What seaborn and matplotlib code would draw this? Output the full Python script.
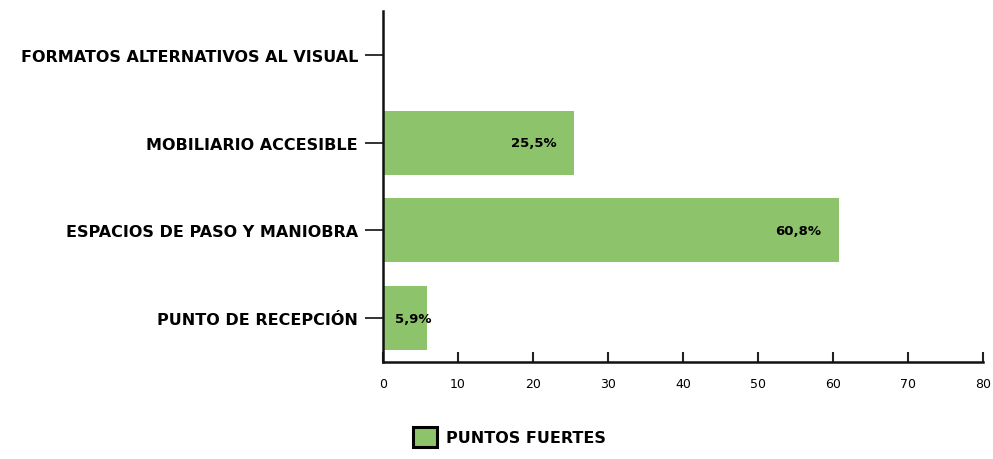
import matplotlib
matplotlib.use('Agg')
import matplotlib.pyplot as plt
import seaborn as sns
import pandas as pd
from matplotlib.patches import Patch

# Data
categorias = ["FORMATOS ALTERNATIVOS AL VISUAL", "MOBILIARIO ACCESIBLE",
              "ESPACIOS DE PASO Y MANIOBRA", "PUNTO DE RECEPCIÓN"]
puntos_fuertes = [0.0, 25.5, 60.8, 5.9]
etiquetas = ["", "25,5%", "60,8%", "5,9%"]
x_ticks = [0, 10, 20, 30, 40, 50, 60, 70, 80]

df = pd.DataFrame({"categoria": categorias, "valor": puntos_fuertes})

sns.set_style("white")
plt.rcParams['font.family'] = ['DejaVu Sans']
plt.rcParams['text.color'] = 'black'

verde = "#8dc36b"

fig = plt.figure(figsize=(9.93, 4.6), dpi=100)
ax = fig.add_axes([0.3857, 0.211, 0.6042, 0.763])

sns.barplot(data=df, y="categoria", x="valor", color=verde, width=0.73,
            saturation=1, ax=ax, edgecolor="none")

ax.set_xlim(0, 80)
ax.set_ylim(3.5, -0.5)
ax.set_xticks(x_ticks)
ax.set_xticklabels([str(t) for t in x_ticks], fontsize=9)
ax.set_yticks(range(len(categorias)))
ax.set_yticklabels(categorias, fontsize=11.5, fontweight='bold')
ax.set_xlabel("")
ax.set_ylabel("")

for s in ["top", "right"]:
    ax.spines[s].set_visible(False)
for s in ["left", "bottom"]:
    ax.spines[s].set_color("#111111")
    ax.spines[s].set_linewidth(1.8)

ax.tick_params(axis='x', bottom=True, direction='in', length=7, width=1.5,
               color="#222222", labelcolor="black", pad=11)
ax.tick_params(axis='y', left=True, direction='out', length=13, width=1.3,
               color="#222222", labelcolor="black", pad=5)

# value labels
for i, (v, lab) in enumerate(zip(puntos_fuertes, etiquetas)):
    if not lab:
        continue
    if v > 15:
        ax.text(v - 2.4, i, lab, ha='right', va='center', fontsize=9.5, fontweight='bold')
    else:
        ax.text(1.6, i, lab, ha='left', va='center', fontsize=9.5, fontweight='bold')

handles = [Patch(facecolor=verde, edgecolor="black", linewidth=2.2, label="PUNTOS FUERTES")]
fig.legend(handles=handles, loc='center', bbox_to_anchor=(0.513, 0.048), frameon=False,
           prop={'weight': 'bold', 'size': 11.5}, handlelength=1.5, handleheight=1.5,
           handletextpad=0.6)

fig.savefig("out.png", dpi=100)
